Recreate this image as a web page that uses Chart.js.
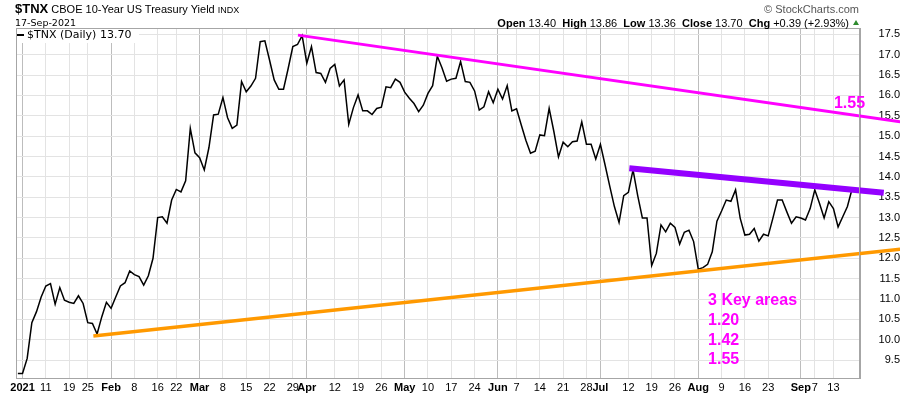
<!DOCTYPE html>
<html>
<head>
<meta charset="utf-8">
<title>$TNX CBOE 10-Year US Treasury Yield</title>
<script src="https://cdn.jsdelivr.net/npm/chart.js@4.4.0/dist/chart.umd.min.js"></script>
<style>
body { margin: 0; background: #fff; font-family: "Liberation Sans", Arial, sans-serif; }
#wrap { position: relative; width: 900px; height: 396px; }
#chart { display: block; }
.hd { position: absolute; white-space: nowrap; color: #000; font-size: 11px; line-height: 12px; }
</style>
</head>
<body>
<div id="wrap">
  <canvas id="chart" width="900" height="396"></canvas>
  <div class="hd" style="left:15px;top:2px;line-height:14px"><b style="font-size:13px">$TNX</b> CBOE 10-Year US Treasury Yield <span style="font-size:9px">INDX</span></div>
  <div class="hd" style="left:15px;top:17px;font-family:'DejaVu Sans';font-size:9.5px">17-Sep-2021</div>
  <div class="hd" style="right:41px;top:3px;color:#555">&copy; StockCharts.com</div>
  <div class="hd" style="right:51px;top:17px"><b>Open</b> 13.40&nbsp; <b>High</b> 13.86&nbsp; <b>Low</b> 13.36&nbsp; <b>Close</b> 13.70&nbsp; <b>Chg</b> +0.39 (+2.93%)</div>
  <div style="position:absolute;left:853px;top:20px;width:0;height:0;border-left:3px solid transparent;border-right:3px solid transparent;border-bottom:5px solid #2e8b2e"></div>
</div>
<script>
// daily closes, Dec 31 2020 .. Sep 17 2021 (index = trading day)
const tnx = [
  9.17, 9.17, 9.54, 10.42, 10.69, 11.05, 11.32, 11.38, 10.87, 11.28,
  10.97, 10.92, 10.89, 11.08, 10.89, 10.42, 10.40, 10.14, 10.56, 10.92,
  10.77, 11.05, 11.32, 11.40, 11.69, 11.60, 11.55, 11.34, 11.57, 12.00,
  13.00, 13.02, 12.86, 13.43, 13.69, 13.63, 13.90, 15.19, 14.59, 14.47,
  14.17, 14.72, 15.52, 15.54, 15.95, 15.45, 15.19, 15.27, 16.34, 16.09,
  16.23, 16.42, 17.32, 17.34, 16.87, 16.38, 16.15, 16.15, 16.66, 17.20,
  17.25, 17.47, 16.79, 17.20, 16.56, 16.54, 16.32, 16.66, 16.76, 16.23,
  16.38, 15.29, 15.70, 16.01, 15.62, 15.62, 15.53, 15.68, 15.71, 16.21,
  16.19, 16.40, 16.32, 16.08, 15.93, 15.80, 15.60, 15.76, 16.05, 16.24,
  16.96, 16.68, 16.35, 16.40, 16.42, 16.83, 16.34, 16.32, 16.11, 15.64,
  15.72, 16.09, 15.82, 16.15, 15.91, 16.24, 15.62, 15.67, 15.28, 14.90,
  14.58, 14.63, 15.03, 15.01, 15.68, 15.12, 14.49, 14.85, 14.74, 14.86,
  14.88, 15.35, 14.80, 14.80, 14.44, 14.80, 14.29, 13.77, 13.27, 12.88,
  13.54, 13.62, 14.17, 13.54, 12.99, 12.99, 11.82, 12.12, 12.82, 12.65,
  12.86, 12.76, 12.35, 12.64, 12.69, 12.41, 11.73, 11.77, 11.85, 12.16,
  12.91, 13.16, 13.43, 13.40, 13.68, 12.98, 12.57, 12.59, 12.73, 12.42,
  12.59, 12.55, 12.98, 13.43, 13.43, 13.14, 12.86, 13.02, 12.99, 12.94,
  13.22, 13.68, 13.35, 12.99, 13.39, 13.22, 12.77, 13.02, 13.27, 13.70
];

// x axis labels: trading-day index, text, month start
const xTickIdx  = [1, 6, 11, 15, 20, 25, 30, 34, 39, 44, 49, 54, 59, 62, 68, 73, 78, 83, 88, 93, 98,
                   103, 107, 112, 117, 122, 125, 131, 136, 141, 146, 151, 156, 161, 168, 171, 175];
const xTickText = ['2021', '11', '19', '25', 'Feb', '8', '16', '22', 'Mar', '8', '15', '22', '29', 'Apr',
                   '12', '19', '26', 'May', '10', '17', '24', 'Jun', '7', '14', '21', '28', 'Jul',
                   '12', '19', '26', 'Aug', '9', '16', '23', 'Sep', '7', '13'];
const monthIdx  = [1, 20, 39, 62, 83, 103, 125, 146, 168];

const yTicks = [9.5, 10, 10.5, 11, 11.5, 12, 12.5, 13, 13.5, 14, 14.5, 15, 15.5, 16, 16.5, 17, 17.5];

// hand drawn trend lines [index, value]
const resistTop = [[60.1, 17.48], [189.3, 15.35]];
const resistMid = [[131.2, 14.21], [185.8, 13.61]];
const support   = [[16.2, 10.09], [189.3, 12.22]];

const notes = [
  { text: '1.55', x: 175.1, y: 15.79 },
  { text: '3 Key areas', x: 148.1, y: 10.97 },
  { text: '1.20', x: 148.1, y: 10.48 },
  { text: '1.42', x: 148.1, y: 9.99 },
  { text: '1.55', x: 148.1, y: 9.52 }
];

const toXY = arr => arr.map(p => ({ x: p[0], y: p[1] }));

const frame = {
  id: 'frame',
  beforeDatasetsDraw(chart) {
    // legend sits on a white box over the grid
    const { ctx, chartArea: a } = chart;
    ctx.save();
    ctx.fillStyle = '#fff';
    ctx.fillRect(a.left + 1, a.top + 1, 122, 14);
    ctx.fillStyle = '#000';
    ctx.fillRect(a.left + 1, 34, 7, 2);
    ctx.font = '11px "DejaVu Sans"';
    ctx.textBaseline = 'middle';
    ctx.fillText('$TNX (Daily) 13.70', a.left + 11, 35.5);
    ctx.restore();
  },
  afterDraw(chart) {
    const { ctx, chartArea: a, scales: { x, y } } = chart;
    ctx.save();
    ctx.strokeStyle = '#a6a6a6';
    ctx.lineWidth = 1;
    ctx.strokeRect(a.left + 0.5, a.top + 0.5, a.right - a.left - 1, a.bottom - a.top);

    // annotations
    ctx.fillStyle = '#ff00ff';
    ctx.font = 'bold 16px "Liberation Sans", Arial';
    ctx.textBaseline = 'middle';
    notes.forEach(n => ctx.fillText(n.text, x.getPixelForValue(n.x), y.getPixelForValue(n.y)));
    ctx.restore();
  }
};

new Chart(document.getElementById('chart'), {
  type: 'line',
  data: {
    datasets: [
      { data: toXY(resistTop), borderColor: '#ff00ff', borderWidth: 3, pointRadius: 0, clip: false },
      { data: toXY(resistMid), borderColor: '#9400ff', borderWidth: 6, pointRadius: 0, clip: false },
      { data: toXY(support), borderColor: '#ff9900', borderWidth: 3.5, pointRadius: 0, clip: false },
      { data: tnx.map((v, i) => ({ x: i, y: v })), borderColor: '#000', borderWidth: 1.5, pointRadius: 0, tension: 0 }
    ]
  },
  options: {
    responsive: false,
    animation: false,
    events: [],
    layout: { padding: { left: 16, top: 28, right: 0, bottom: 0 } },
    plugins: { legend: { display: false }, tooltip: { enabled: false } },
    scales: {
      x: {
        type: 'linear',
        bounds: 'data',
        min: -0.4,
        max: 180.7,
        afterBuildTicks: s => { s.ticks = xTickIdx.map(v => ({ value: v })); },
        afterFit: s => { s.height = 18; },
        border: { color: '#a6a6a6' },
        grid: {
          drawTicks: false,
          color: c => (c.tick && monthIdx.includes(c.tick.value)) ? '#bdbdbd' : '#e3e3e3'
        },
        ticks: {
          autoSkip: false,
          maxRotation: 0,
          padding: 3,
          color: '#000',
          callback: (v, i) => xTickText[i],
          font: c => ({
            family: '"Liberation Sans", Arial',
            size: 11,
            weight: (c.tick && monthIdx.includes(c.tick.value)) ? 'bold' : 'normal'
          })
        }
      },
      y: {
        position: 'right',
        bounds: 'data',
        min: 9.06,
        max: 17.655,
        afterBuildTicks: s => { s.ticks = yTicks.map(v => ({ value: v })); },
        afterFit: s => { s.width = 40; },
        border: { color: '#a6a6a6' },
        grid: { drawTicks: false, color: '#e3e3e3' },
        ticks: {
          crossAlign: 'far',
          padding: 3,
          color: '#000',
          font: { family: '"Liberation Sans", Arial', size: 11 },
          callback: v => v.toFixed(1)
        }
      }
    }
  },
  plugins: [frame]
});
</script>
</body>
</html>
